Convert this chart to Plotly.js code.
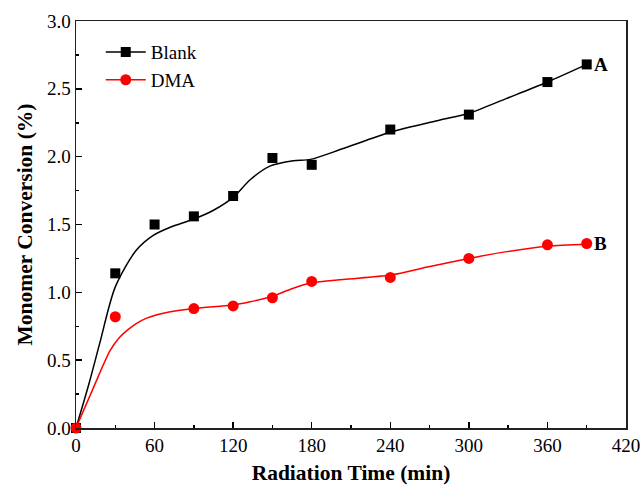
<!DOCTYPE html>
<html>
<head>
<meta charset="utf-8">
<script src="https://cdn.plot.ly/plotly-3.0.1.min.js"></script>
<style>html,body{margin:0;padding:0;background:#fff;}#chart{width:642px;height:485px;}</style>
</head>
<body>
<div id="chart"></div>
<script>
// Measured data points
var timeBlank = [0, 30, 60, 90, 120, 150, 180, 240, 300, 360, 390];
var convBlank = [0, 1.14, 1.50, 1.56, 1.71, 1.99, 1.94, 2.20, 2.31, 2.55, 2.68];
var timeDMA = [0, 30, 90, 120, 150, 180, 240, 300, 360, 390];
var convDMA = [0, 0.82, 0.88, 0.90, 0.96, 1.08, 1.11, 1.25, 1.35, 1.36];

// Smoothed fit curves
var fitTimeBlank = [0, 10, 18, 30, 46, 59, 72, 90, 105, 120, 133, 148, 166, 179, 204, 240, 278, 300, 329, 360, 390];
var fitConvBlank = [0, 0.33, 0.62, 1.04, 1.31, 1.42, 1.48, 1.54, 1.605, 1.70, 1.83, 1.93, 1.97, 1.98, 2.06, 2.18, 2.27, 2.32, 2.43, 2.55, 2.68];
var fitTimeDMA = [0, 13, 26, 33, 39, 46, 54, 72, 90, 105, 120, 133, 148, 166, 180, 204, 240, 270, 300, 329, 360, 390];
var fitConvDMA = [0, 0.29, 0.57, 0.665, 0.72, 0.77, 0.81, 0.857, 0.88, 0.894, 0.906, 0.93, 0.965, 1.03, 1.07, 1.095, 1.127, 1.19, 1.25, 1.30, 1.34, 1.355];

var xTicks = [0, 60, 120, 180, 240, 300, 360, 420];
var yTicks = [0.0, 0.5, 1.0, 1.5, 2.0, 2.5, 3.0];
var seriesNames = ['Blank', 'DMA'];
var curveLabels = ['A', 'B'];

var serif = 'Liberation Serif, Times New Roman, serif';

var traces = [
  {x: fitTimeBlank, y: fitConvBlank, mode: 'lines', line: {color: '#000', width: 1.5, shape: 'spline', smoothing: 0.8}, showlegend: false, hoverinfo: 'skip'},
  {x: fitTimeDMA, y: fitConvDMA, mode: 'lines', line: {color: '#ff0000', width: 1.5, shape: 'spline', smoothing: 0.8}, showlegend: false, hoverinfo: 'skip'},
  {x: timeBlank, y: convBlank, mode: 'markers', marker: {symbol: 'square', size: 10, color: '#000'}, showlegend: false, cliponaxis: false},
  {x: timeDMA, y: convDMA, mode: 'markers', marker: {symbol: 'circle', size: 11, color: '#ff0000'}, showlegend: false, cliponaxis: false},
  {x: [null], y: [null], name: seriesNames[0], mode: 'lines+markers', line: {color: '#000', width: 1.5}, marker: {symbol: 'square', size: 10, color: '#000'}},
  {x: [null], y: [null], name: seriesNames[1], mode: 'lines+markers', line: {color: '#ff0000', width: 1.5}, marker: {symbol: 'circle', size: 11, color: '#ff0000'}}
];

var layout = {
  width: 642, height: 485,
  margin: {l: 76, r: 16, t: 21, b: 57},
  paper_bgcolor: '#fff', plot_bgcolor: '#fff',
  font: {family: serif, size: 19, color: '#000'},
  showlegend: true,
  legend: {x: 0.045, y: 0.97, xanchor: 'left', yanchor: 'top', bgcolor: 'rgba(0,0,0,0)', font: {family: serif, size: 19}, tracegroupgap: 0, itemwidth: 40},
  xaxis: {
    range: [0, 420], tickvals: xTicks, ticktext: xTicks.map(String),
    ticks: 'inside', ticklen: 6, tickwidth: 1.5, tickcolor: '#000',
    minor: {dtick: 30, ticks: 'inside', ticklen: 3, tickwidth: 1.5, tickcolor: '#000'},
    showline: true, linecolor: '#222', linewidth: 1.5, mirror: true,
    showgrid: false, zeroline: false,
    tickfont: {family: serif, size: 19},
    title: {text: '<b>Radiation Time (min)</b>', font: {family: serif, size: 21.5}, standoff: 10}
  },
  yaxis: {
    range: [0, 3.0], tickvals: yTicks, ticktext: yTicks.map(function(v){return v.toFixed(1);}),
    ticks: 'inside', ticklen: 6, tickwidth: 1.5, tickcolor: '#000',
    minor: {dtick: 0.25, ticks: 'inside', ticklen: 3, tickwidth: 1.5, tickcolor: '#000'},
    showline: true, linecolor: '#222', linewidth: 1.5, mirror: true,
    showgrid: false, zeroline: false,
    tickfont: {family: serif, size: 19},
    title: {text: '<b>Monomer Conversion (%)</b>', font: {family: serif, size: 21.5}, standoff: 8}
  },
  annotations: [
    {x: timeBlank[timeBlank.length-1], y: convBlank[convBlank.length-1], text: '<b>' + curveLabels[0] + '</b>', showarrow: false, xanchor: 'left', xshift: 5, font: {family: serif, size: 19}},
    {x: timeDMA[timeDMA.length-1], y: convDMA[convDMA.length-1], text: '<b>' + curveLabels[1] + '</b>', showarrow: false, xanchor: 'left', xshift: 5, font: {family: serif, size: 19}}
  ]
};

Plotly.newPlot('chart', traces, layout, {displayModeBar: false, staticPlot: true});
</script>
</body>
</html>
